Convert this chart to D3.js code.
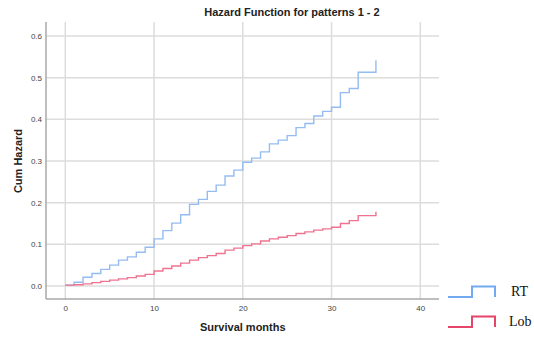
<!DOCTYPE html>
<html>
<head>
<meta charset="utf-8">
<script src="https://cdn.jsdelivr.net/npm/d3@7"></script>
<style>
  html, body { margin: 0; padding: 0; background: #fff; }
  svg { display: block; }
</style>
</head>
<body>
<svg id="chart" width="534" height="341"></svg>
<script>
// Cumulative hazard by survival month (step function)
const months = d3.range(0, 36);
const rtHazard = [
  0.002, 0.009, 0.021, 0.030, 0.040, 0.050, 0.062, 0.070, 0.081, 0.093,
  0.113, 0.133, 0.151, 0.171, 0.196, 0.208, 0.227, 0.242, 0.264, 0.278,
  0.297, 0.307, 0.322, 0.341, 0.350, 0.361, 0.380, 0.390, 0.408, 0.419,
  0.429, 0.464, 0.474, 0.513, 0.513, 0.542
];
const lobHazard = [
  0.002, 0.003, 0.005, 0.008, 0.011, 0.014, 0.017, 0.020, 0.024, 0.028,
  0.036, 0.042, 0.048, 0.055, 0.062, 0.068, 0.073, 0.078, 0.086, 0.091,
  0.097, 0.101, 0.108, 0.113, 0.117, 0.121, 0.126, 0.130, 0.134, 0.137,
  0.141, 0.150, 0.157, 0.169, 0.169, 0.178
];
const seriesNames = ["RT", "Lob"];
const seriesColors = ["#94bcf2", "#ef7390"];
const legendColors = ["#72a9f0", "#e6456a"];
const xTicks = [0, 10, 20, 30, 40];
const yTicks = [0.0, 0.1, 0.2, 0.3, 0.4, 0.5, 0.6];

const svg = d3.select("#chart");

// plot frame
const frame = { left: 46, right: 439, top: 22, bottom: 299 };
const x = d3.scaleLinear().domain([0, 40]).range([65.3, 420.3]);
const y = d3.scaleLinear().domain([0, 0.6]).range([286, 36]);

// gridlines
const grid = svg.append("g");
grid.selectAll("line.h").data(yTicks).join("line")
  .attr("x1", frame.left).attr("x2", frame.right)
  .attr("y1", d => y(d)).attr("y2", d => y(d))
  .attr("stroke", "#dcdcdc").attr("stroke-width", 1.5);
grid.selectAll("line.v").data(xTicks).join("line")
  .attr("x1", d => x(d)).attr("x2", d => x(d))
  .attr("y1", frame.top).attr("y2", frame.bottom)
  .attr("stroke", "#dcdcdc").attr("stroke-width", 1.5);

// axes
const xAxis = d3.axisBottom(x).tickValues(xTicks).tickSize(0).tickPadding(6)
  .tickFormat(d3.format("d"));
const gx = svg.append("g").attr("transform", `translate(0,${frame.bottom})`).call(xAxis);
gx.select(".domain").remove();
gx.selectAll("text").attr("font-family", "Liberation Sans, Arial, sans-serif")
  .attr("font-size", 8).attr("fill", "#444");

const yAxis = d3.axisLeft(y).tickValues(yTicks).tickSize(0).tickPadding(4)
  .tickFormat(d3.format(".1f"));
const gy = svg.append("g").attr("transform", `translate(${frame.left},0)`).call(yAxis);
gy.select(".domain").remove();
gy.selectAll("text").attr("font-family", "Liberation Sans, Arial, sans-serif")
  .attr("font-size", 8).attr("fill", "#444");

svg.append("line").attr("x1", frame.left).attr("x2", frame.left)
  .attr("y1", frame.top).attr("y2", frame.bottom)
  .attr("stroke", "#a8a8a8").attr("stroke-width", 1.5);
svg.append("line").attr("x1", frame.left).attr("x2", frame.right)
  .attr("y1", frame.bottom).attr("y2", frame.bottom)
  .attr("stroke", "#a8a8a8").attr("stroke-width", 1.5);

// step curves
const line = d3.line()
  .x(d => x(d[0])).y(d => y(d[1]))
  .curve(d3.curveStepAfter);
[rtHazard, lobHazard].forEach((vals, i) => {
  svg.append("path")
    .datum(months.map((m, j) => [m, vals[j]]))
    .attr("d", line)
    .attr("fill", "none")
    .attr("stroke", seriesColors[i])
    .attr("stroke-width", 1.4);
});

// title and axis titles
svg.append("text").attr("x", 292).attr("y", 16).attr("text-anchor", "middle")
  .attr("font-family", "Liberation Sans, Arial, sans-serif")
  .attr("font-size", 11).attr("font-weight", "bold").attr("fill", "#222")
  .text("Hazard Function for patterns 1 - 2");
svg.append("text").attr("x", x(20)).attr("y", 331).attr("text-anchor", "middle")
  .attr("font-family", "Liberation Sans, Arial, sans-serif")
  .attr("font-size", 11).attr("font-weight", "bold").attr("fill", "#222")
  .text("Survival months");
svg.append("text").attr("transform", "translate(22,161) rotate(-90)")
  .attr("text-anchor", "middle")
  .attr("font-family", "Liberation Sans, Arial, sans-serif")
  .attr("font-size", 11).attr("font-weight", "bold").attr("fill", "#222")
  .text("Cum Hazard");

// legend
const legend = svg.append("g");
const legendRows = [297, 327];
seriesNames.forEach((name, i) => {
  const base = legendRows[i];
  const top = base - 10.5;
  legend.append("path")
    .attr("d", `M448,${base}H472V${top}H495V${base}`)
    .attr("fill", "none")
    .attr("stroke", legendColors[i])
    .attr("stroke-width", 2);
  legend.append("text")
    .attr("x", i === 0 ? 511 : 509).attr("y", base - 1.5)
    .attr("font-family", "Liberation Serif, Times New Roman, serif")
    .attr("font-size", 14).attr("fill", "#111")
    .text(name);
});
</script>
</body>
</html>
